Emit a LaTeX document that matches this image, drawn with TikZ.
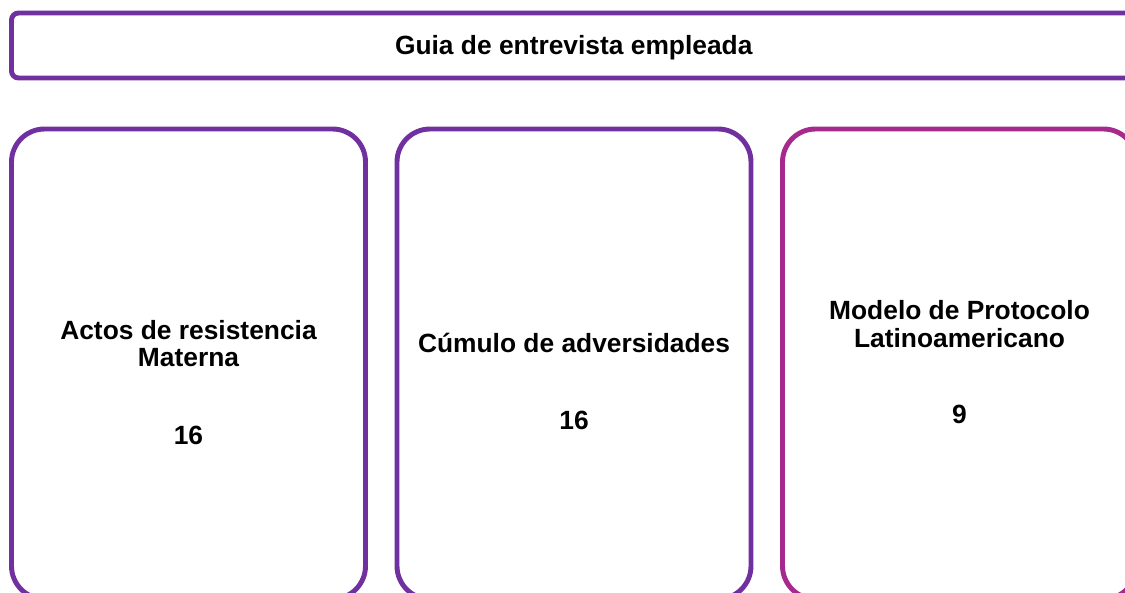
\documentclass[tikz,border=0pt]{standalone}
\usepackage{fontspec}
\setmainfont{Liberation Sans}
\usepackage{tikz}
\usetikzlibrary{positioning}
\definecolor{boxpurple}{RGB}{112,48,160}
\definecolor{boxmagenta}{RGB}{166,42,142}

\begin{document}
\begin{tikzpicture}[
    header/.style={draw=boxpurple, line width=2.8pt, rounded corners=4pt, minimum width=22.49cm, minimum height=1.3cm, inner sep=0pt},
    panel/.style={draw=boxpurple, line width=2.8pt, rounded corners=0.66cm, minimum width=7.08cm, minimum height=9.4cm, inner sep=0pt},
    label/.style={font=\fontsize{15}{15.6}\selectfont\bfseries, align=center, inner sep=0pt}
]
    \useasboundingbox (0,0) rectangle (22.5,-11.84);
    \clip (0,0) rectangle (22.5,-11.84);

    \node[header] (guide) at (11.475,-0.91) {};
    \node[label] (guidetxt) at (11.475,-0.95) {Guia de entrevista empleada};

    \node[panel] (actos) at (3.77,-7.28) {};
    \node[panel] (cumulo) at (11.48,-7.28) {};
    \node[panel, draw=boxmagenta] (modelo) at (19.19,-7.28) {};

    \node[label] (actostxt) at (3.77,-6.87) {Actos de resistencia\\Materna};
    \node[label] (actosnum) at (3.77,-8.70) {16};
    \node[label] (cumulotxt) at (11.48,-6.86) {Cúmulo de adversidades};
    \node[label] (cumulonum) at (11.48,-8.40) {16};
    \node[label] (modelotxt) at (19.19,-6.48) {Modelo de Protocolo\\Latinoamericano};
    \node[label] (modelonum) at (19.19,-8.28) {9};
\end{tikzpicture}
\end{document}
